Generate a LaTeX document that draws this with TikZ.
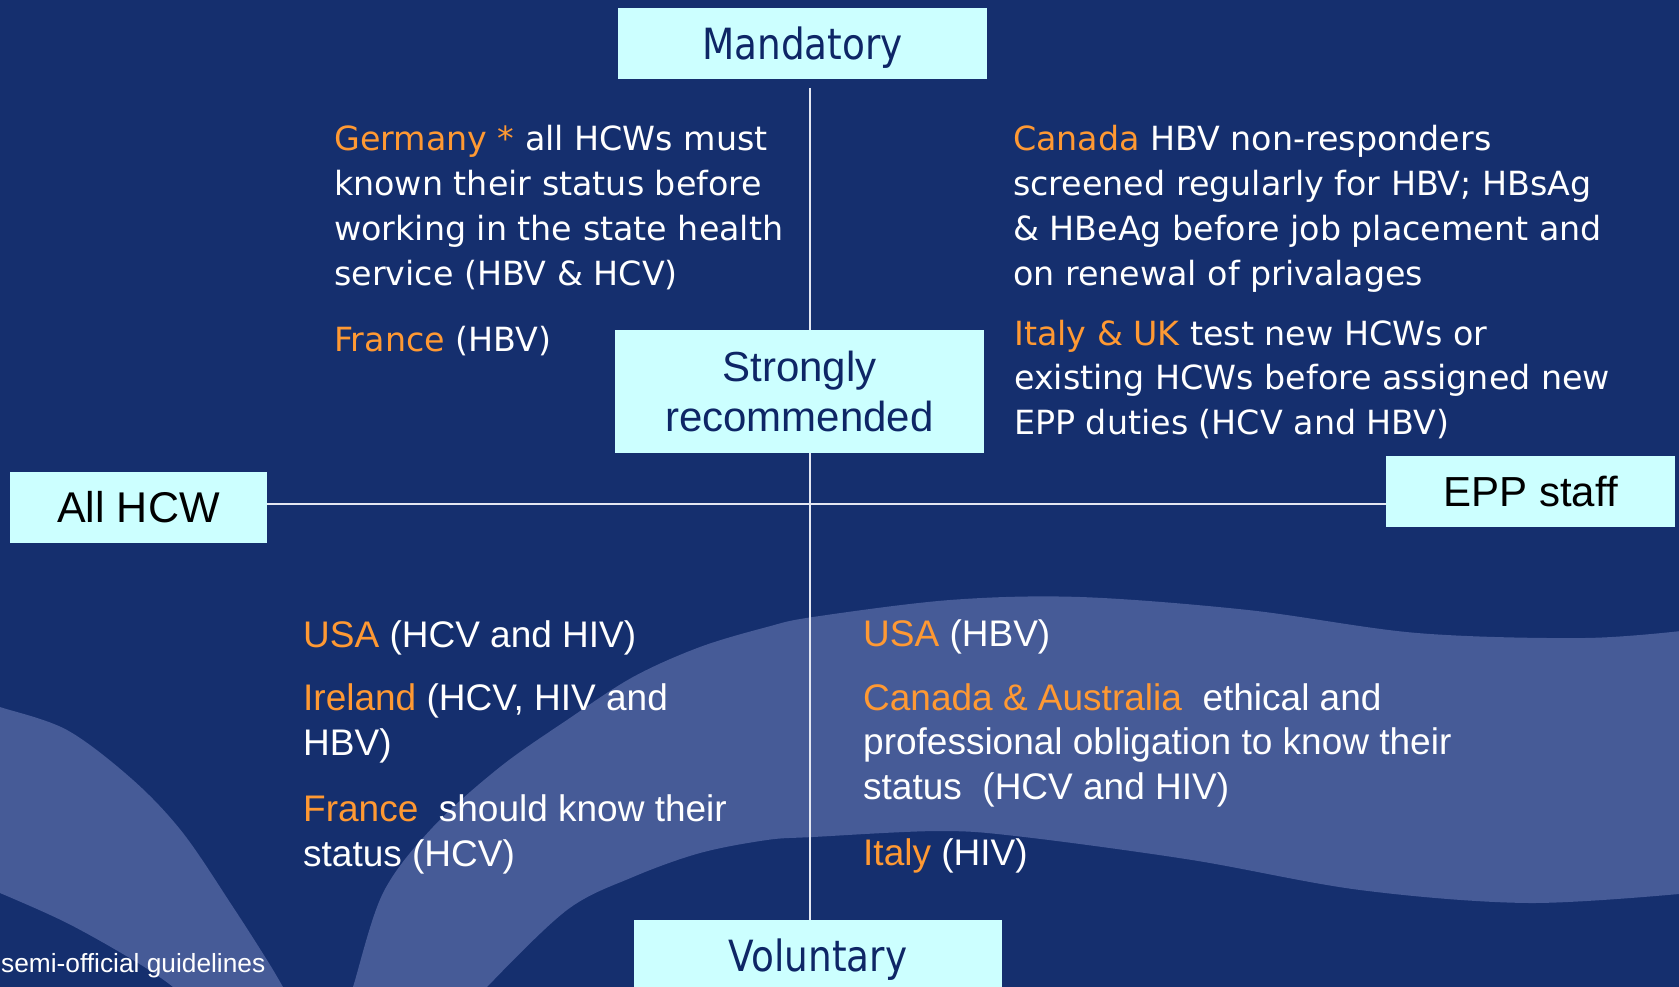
\documentclass[tikz,border=0pt]{standalone}
\usepackage{fontspec}
\setmainfont{Liberation Sans}
\newfontfamily\humanist{DejaVu Sans}
\newfontfamily\humanistnarrow[FakeStretch=0.87]{DejaVu Sans}

\definecolor{bg}{RGB}{21,47,110}
\definecolor{band}{RGB}{70,91,151}
\definecolor{boxfill}{RGB}{204,255,255}
\definecolor{boxtext}{RGB}{14,38,102}
\definecolor{country}{RGB}{255,153,51}
\definecolor{axiswhite}{RGB}{228,231,242}

\newcommand\ctry[1]{{\color{country}#1}}

\begin{document}
\begin{tikzpicture}[x=1pt,y=-1pt,
  boxnode/.style={fill=boxfill, draw=none, inner sep=0pt, align=center},
  axisline/.style={draw=axiswhite, line width=1.4pt},
  % multi-line text blocks are placed by the baseline of their last line
  bodytop/.style={anchor=base west, align=left, inner sep=0pt, text=white,
    font=\humanist\fontsize{33.3}{44.7}\selectfont},
  bodybot/.style={anchor=base west, align=left, inner sep=0pt, text=white,
    font=\fontsize{37}{44.5}\selectfont},
]
% page and background swooshes
\fill[bg] (0,0) rectangle (1679,987);
\useasboundingbox (0,0) rectangle (1679,987);
\clip (0,0) rectangle (1679,987);

\fill[band] plot[smooth, tension=0.55] coordinates {(-10,703) (0,707) (67,730) (133,780) (183,833) (233,907) (267,960) (283,987) (290,1000)}
  -- plot[smooth, tension=0.55] coordinates {(180,1000) (173,987) (133,960) (67,923) (0,893) (-10,890)} -- cycle;

\fill[band] plot[smooth, tension=0.55] coordinates {(348,1000) (353,987) (383,893) (433,827) (500,767) (567,720) (633,677) (700,647) (767,627) (813,617) (950,600) (1080,597) (1248,610) (1417,633) (1585,638) (1690,630)}
  -- plot[smooth, tension=0.55] coordinates {(1690,893) (1529,903) (1360,890) (1192,860) (1024,837) (940,831) (813,837) (767,840) (700,853) (633,877) (567,910) (487,987) (480,1000)} -- cycle;

% axis end points
\coordinate (vtop) at (810,88);
\coordinate (hy) at (0,504);

% category boxes
\node[boxnode, minimum width=369pt, minimum height=71pt, text=boxtext,
  font=\humanistnarrow\fontsize{43}{50}\selectfont, text height=41.3pt, text depth=10pt]
  (mand) at (802.5,43.5) {Mandatory};
\node[boxnode, minimum width=368pt, minimum height=71pt, text=boxtext,
  font=\humanistnarrow\fontsize{43}{50}\selectfont, text height=41.3pt, text depth=10pt]
  (vol) at (818,955.5) {Voluntary};
\node[boxnode, minimum width=257pt, minimum height=71pt, text=black,
  font=\fontsize{43}{50}\selectfont, text height=40.8pt, text depth=10pt]
  (hcw) at (138.5,507.5) {All HCW};
\node[boxnode, minimum width=289pt, minimum height=71pt, text=black,
  font=\fontsize{42}{50}\selectfont, text height=40.1pt, text depth=10pt]
  (epp) at (1530.5,491.5) {EPP staff};

% axes
\draw[axisline] (vtop) -- (vtop |- vol.north);
\draw[axisline] (hcw.east |- hy) -- (epp.west |- hy);

\node[boxnode, minimum width=369pt, minimum height=123pt, text=boxtext,
  font=\fontsize{42}{50}\selectfont]
  (strong) at (799.5,391.5) {Strongly\\recommended};

% mandatory side
\node[bodytop] (germany) at (334,285) {\ctry{Germany *} all HCWs must\\known their status before\\working in the state health\\service (HBV \& HCV)};
\node[bodytop] (franceA) at (334,351) {\ctry{France} (HBV)};
\node[bodytop] (canadaA) at (1013,285) {\ctry{Canada} HBV non-responders\\screened regularly for HBV; HBsAg\\\& HBeAg before job placement and\\on renewal of privalages};
\node[bodytop] (italyA) at (1014,434.5) {\ctry{Italy \& UK} test new HCWs or\\existing HCWs before assigned new\\EPP duties (HCV and HBV)};

% voluntary side
\node[bodybot] (usaA) at (303,647) {\ctry{USA} (HCV and HIV)};
\node[bodybot] (ireland) at (303,755) {\ctry{Ireland} (HCV, HIV and\\HBV)};
\node[bodybot] (franceB) at (303,866) {\ctry{France}\ \ should know their\\status (HCV)};
\node[bodybot] (usaB) at (863,646) {\ctry{USA} (HBV)};
\node[bodybot] (canadaB) at (863,799) {\ctry{Canada \& Australia}\ \ ethical and\\professional obligation to know their\\status\ \ (HCV and HIV)};
\node[bodybot] (italyB) at (863,865) {\ctry{Italy} (HIV)};

% footnote
\node[anchor=base west, inner sep=0pt, text=white, font=\fontsize{26.3}{30}\selectfont]
  (note) at (1,972) {semi-official guidelines};
\end{tikzpicture}
\end{document}
